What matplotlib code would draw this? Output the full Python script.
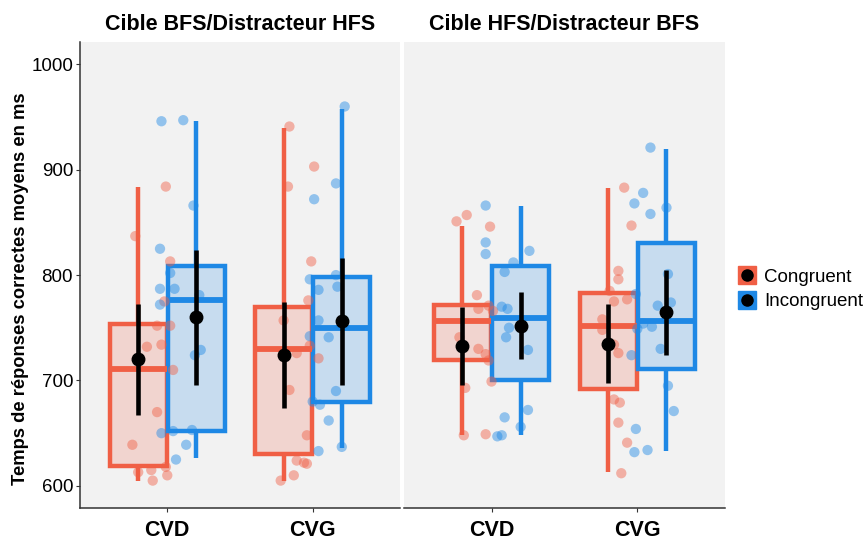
import numpy as np
import matplotlib
matplotlib.use('Agg')
import matplotlib.pyplot as plt
from matplotlib.colors import to_rgba
from matplotlib.lines import Line2D

plt.rcParams['font.family'] = ['Liberation Sans', 'DejaVu Sans']

# ---- data ----
panels = ['Cible BFS/Distracteur HFS', 'Cible HFS/Distracteur BFS']
groups = ['CVD', 'CVG']
conditions = ['Congruent', 'Incongruent']
colors = ['#F05F45', '#1E88E5']

# box stats, indexed [panel][group][condition]
box_q1 = [[[619, 652], [630, 680]], [[719, 700], [692, 711]]]
box_med = [[[711, 776], [730, 750]], [[756, 759], [752, 756]]]
box_q3 = [[[754, 809], [770, 798]], [[772, 809], [783, 830]]]
box_lo = [[[605, 626], [605, 636]], [[648, 648], [613, 633]]]
box_hi = [[[884, 946], [940, 958]], [[847, 866], [883, 920]]]

# mean with interval, indexed [panel][group][condition]
mean_val = [[[720, 760], [724, 756]], [[733, 752], [735, 765]]]
mean_lo = [[[667, 696], [674, 696]], [[696, 720], [698, 724]]]
mean_hi = [[[773, 824], [774, 816]], [[770, 784], [773, 805]]]

# individual participants
pts_bfs_cvd_cong = [884, 837, 813, 775, 752, 752, 732, 734, 710, 670, 639, 613, 615, 618, 610, 605]
pts_bfs_cvd_inc = [946, 947, 866, 825, 802, 787, 787, 772, 781, 729, 724, 650, 652, 653, 639, 625]
pts_bfs_cvg_cong = [941, 884, 903, 813, 776, 757, 733, 726, 721, 691, 648, 624, 622, 621, 610, 605]
pts_bfs_cvg_inc = [960, 887, 872, 796, 800, 789, 786, 757, 742, 741, 690, 680, 677, 662, 633, 637]
pts_hfs_cvd_cong = [851, 857, 846, 781, 768, 771, 766, 741, 730, 725, 719, 699, 693, 648, 649]
pts_hfs_cvd_inc = [866, 831, 820, 823, 812, 803, 770, 768, 750, 741, 729, 672, 665, 656, 647, 648]
pts_hfs_cvg_cong = [883, 847, 804, 796, 785, 775, 777, 758, 748, 734, 726, 682, 679, 660, 641, 612]
pts_hfs_cvg_inc = [921, 878, 868, 858, 864, 782, 771, 774, 801, 754, 751, 749, 730, 724, 695, 671, 654, 632, 634]

# horizontal jitter of those points (as seen in the picture)
jit_bfs_cvd_cong = [-0.01, -0.22, 0.02, -0.02, 0.02, -0.07, -0.14, -0.04, 0.04, -0.07, -0.24, -0.20, -0.11, -0.01, 0.00, -0.10]
jit_bfs_cvd_inc = [-0.04, 0.11, 0.18, -0.05, 0.02, -0.05, 0.05, -0.05, 0.22, 0.23, 0.19, -0.04, 0.04, 0.17, 0.13, 0.06]
jit_bfs_cvg_cong = [-0.16, -0.17, 0.01, -0.01, -0.03, -0.20, -0.02, -0.11, 0.04, -0.16, -0.04, -0.11, -0.06, -0.04, -0.13, -0.22]
jit_bfs_cvg_inc = [0.22, 0.16, 0.01, -0.02, 0.16, 0.17, 0.04, 0.04, -0.02, 0.11, 0.16, 0.00, 0.05, 0.11, 0.04, 0.20]
jit_hfs_cvd_cong = [-0.24, -0.17, -0.01, -0.10, -0.09, -0.02, 0.01, -0.22, -0.09, -0.04, -0.02, 0.00, -0.18, -0.19, -0.04]
jit_hfs_cvd_inc = [-0.04, -0.04, -0.04, 0.26, 0.15, 0.09, 0.07, 0.11, 0.12, 0.10, 0.25, 0.25, 0.09, 0.20, 0.04, 0.07]
jit_hfs_cvg_cong = [-0.09, -0.04, -0.13, -0.13, -0.19, -0.16, -0.07, -0.24, -0.24, -0.16, -0.13, -0.16, -0.12, -0.13, -0.07, -0.11]
jit_hfs_cvg_inc = [0.09, 0.04, -0.02, 0.09, 0.20, -0.01, 0.14, 0.23, 0.21, 0.04, 0.10, 0.00, 0.16, -0.04, 0.21, 0.25, -0.01, -0.02, 0.07]

points = [[[pts_bfs_cvd_cong, pts_bfs_cvd_inc], [pts_bfs_cvg_cong, pts_bfs_cvg_inc]],
          [[pts_hfs_cvd_cong, pts_hfs_cvd_inc], [pts_hfs_cvg_cong, pts_hfs_cvg_inc]]]
jitter = [[[jit_bfs_cvd_cong, jit_bfs_cvd_inc], [jit_bfs_cvg_cong, jit_bfs_cvg_inc]],
          [[jit_hfs_cvd_cong, jit_hfs_cvd_inc], [jit_hfs_cvg_cong, jit_hfs_cvg_inc]]]

# ---- figure ----
fig = plt.figure(figsize=(8.67, 5.41), dpi=100)
ax_rects = [[0.0923, 0.061, 0.369, 0.861], [0.466, 0.061, 0.370, 0.861]]
dodge = 0.2
bw = 0.39

for p, title in enumerate(panels):
    ax = fig.add_axes(ax_rects[p])
    ax.set_facecolor('#F2F2F2')
    for g in range(len(groups)):
        xc = g + 1
        for c in range(len(conditions)):
            xpos = xc + (c - 0.5) * 2 * dodge
            col = colors[c]
            stats = [dict(med=box_med[p][g][c], q1=box_q1[p][g][c], q3=box_q3[p][g][c],
                          whislo=box_lo[p][g][c], whishi=box_hi[p][g][c], fliers=[])]
            ax.bxp(stats, positions=[xpos], widths=bw, patch_artist=True, showcaps=False,
                   showfliers=False, manage_ticks=False,
                   boxprops=dict(facecolor=to_rgba(col, 0.2), edgecolor=col, linewidth=3.2),
                   whiskerprops=dict(color=col, linewidth=3.2, solid_capstyle='butt'),
                   medianprops=dict(color=col, linewidth=4.2, solid_capstyle='butt'),
                   zorder=2)
            # participants
            xs = xc + np.array(jitter[p][g][c])
            ax.scatter(xs, points[p][g][c], s=55, color=col, alpha=0.45,
                       edgecolors='none', zorder=3)
            # mean and interval
            ax.plot([xpos, xpos], [mean_lo[p][g][c], mean_hi[p][g][c]], color='black',
                    linewidth=3.3, solid_capstyle='butt', zorder=4)
            ax.plot([xpos], [mean_val[p][g][c]], 'o', color='black', markersize=9, zorder=5)

    ax.set_xlim(0.4, 2.6)
    ax.set_ylim(579, 1021)
    ax.set_xticks([1, 2])
    ax.set_xticklabels(groups, fontsize=15.5, fontweight='bold')
    ax.set_title(title, fontsize=15.5, fontweight='bold', pad=9)
    for s in ['top', 'right']:
        ax.spines[s].set_visible(False)
    ax.spines['bottom'].set_color('#333333')
    ax.spines['bottom'].set_linewidth(1.1)
    ax.tick_params(axis='x', length=3, color='#333333', pad=6)
    if p == 0:
        ax.spines['left'].set_color('#333333')
        ax.spines['left'].set_linewidth(1.1)
        ax.set_yticks([600, 700, 800, 900, 1000])
        ax.tick_params(axis='y', labelsize=13.5, length=3, color='#333333', pad=2)
        ax.set_ylabel('Temps de réponses correctes moyens en ms', fontsize=13.2,
                      fontweight='bold')
        ax.yaxis.set_label_coords(-0.16, 0.47)
    else:
        ax.spines['left'].set_visible(False)
        ax.set_yticks([])

handles = [(Line2D([], [], marker='s', linestyle='none', markersize=13, color=colors[i]),
            Line2D([], [], marker='o', linestyle='none', markersize=8, color='black'))
           for i in range(len(conditions))]
fig.legend(handles, conditions, loc='center left', bbox_to_anchor=(0.842, 0.465),
           frameon=False, fontsize=13.5, handlelength=1.0, handletextpad=0.4,
           labelspacing=0.4, borderaxespad=0)

fig.savefig('out.png', dpi=100)
